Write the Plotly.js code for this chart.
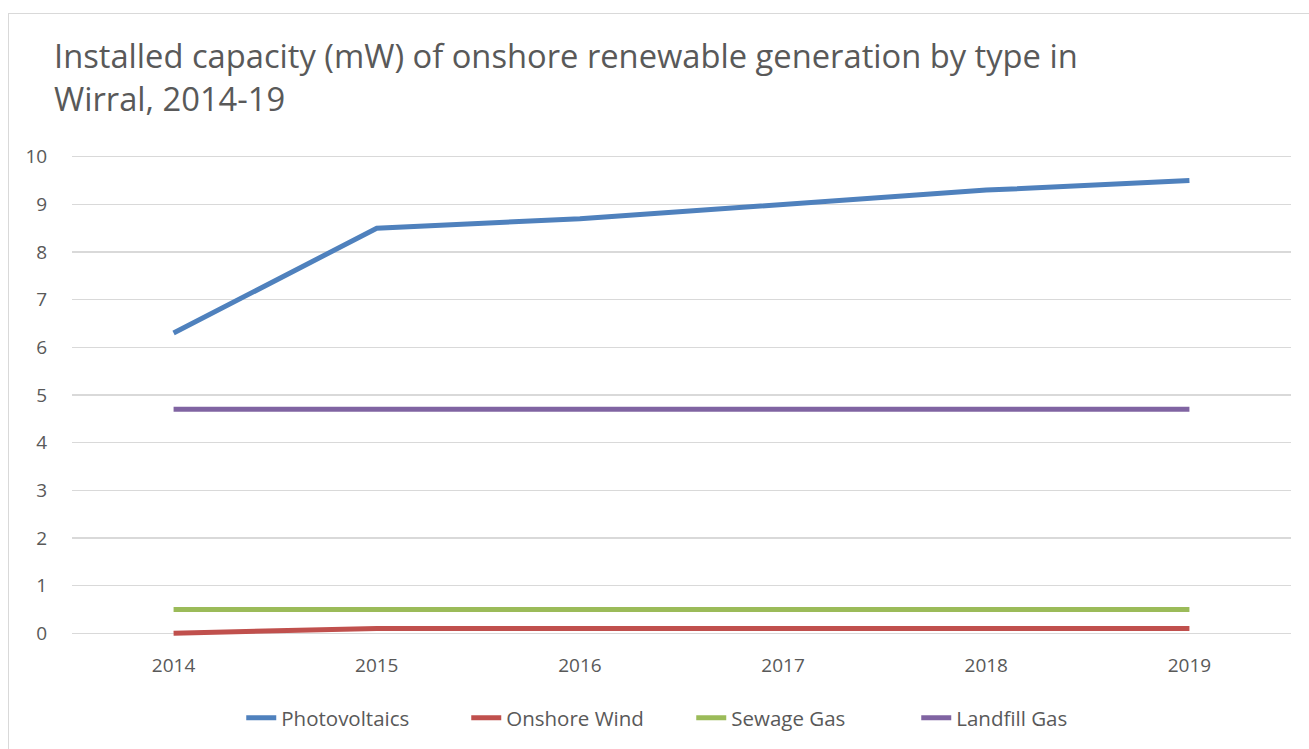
<!DOCTYPE html>
<html>
<head>
<meta charset="utf-8">
<script src="https://cdn.plot.ly/plotly-3.0.1.min.js"></script>
<style>
  html, body { margin: 0; padding: 0; background: #fff; overflow: hidden; }
  #frame { position: absolute; left: 8px; top: 13px; width: 1400px; height: 800px; border: 1px solid #d9d9d9; box-sizing: border-box; }
  #chart { position: absolute; left: 0; top: 0; width: 1309px; height: 749px; }
</style>
</head>
<body>
<div id="frame"></div>
<div id="chart"></div>
<script>
const years = ['2014', '2015', '2016', '2017', '2018', '2019'];
const photovoltaics = [6.3, 8.5, 8.7, 9.0, 9.3, 9.5];
const onshoreWind = [0, 0.1, 0.1, 0.1, 0.1, 0.1];
const sewageGas = [0.5, 0.5, 0.5, 0.5, 0.5, 0.5];
const landfillGas = [4.7, 4.7, 4.7, 4.7, 4.7, 4.7];
const yTicks = [0, 1, 2, 3, 4, 5, 6, 7, 8, 9, 10];

const FONT = 'Open Sans, Liberation Sans, sans-serif';
const TXT = '#595959';

function series(name, y, color) {
  return {
    type: 'scatter', mode: 'lines', name: name, x: years, y: y,
    line: { color: color, width: 5 }
  };
}

const data = [
  series('Photovoltaics', photovoltaics, '#4F81BD'),
  series('Onshore Wind', onshoreWind, '#C0504D'),
  series('Sewage Gas', sewageGas, '#9BBB59'),
  series('Landfill Gas', landfillGas, '#8064A2')
];

const layout = {
  width: 1309, height: 749,
  paper_bgcolor: 'rgba(0,0,0,0)', plot_bgcolor: 'rgba(0,0,0,0)',
  margin: { l: 72, r: 18, t: 152, b: 110 },
  font: { family: FONT, color: TXT },
  title: {
    text: 'Installed capacity (mW) of onshore renewable generation by type in<br>Wirral, 2014-19',
    font: { family: FONT, size: 32.7, color: TXT },
    x: 0, xref: 'container', xanchor: 'left', y: 0.909, yref: 'container', yanchor: 'middle',
    pad: { l: 54 }
  },
  xaxis: {
    type: 'category', range: [-0.5, 5.5],
    showgrid: false, zeroline: false, showline: false,
    ticks: 'outside', ticklen: 10, tickcolor: 'rgba(0,0,0,0)',
    tickfont: { family: FONT, size: 19, color: TXT }
  },
  yaxis: {
    range: [-0.1, 10.1], tickvals: yTicks,
    showgrid: true, gridcolor: '#D9D9D9', gridwidth: 1.3,
    zeroline: false, showline: false,
    ticks: 'outside', ticklen: 20, tickcolor: 'rgba(0,0,0,0)',
    tickfont: { family: FONT, size: 19, color: TXT }
  },
  showlegend: true,
  legend: {
    orientation: 'h', x: 0.508, xanchor: 'center', y: -0.162, yanchor: 'middle',
    font: { family: FONT, size: 20.5, color: TXT },
    itemwidth: 30, entrywidth: 180, tracegroupgap: 0,
    bgcolor: 'rgba(0,0,0,0)'
  }
};

Plotly.newPlot('chart', data, layout, { staticPlot: true });
</script>
</body>
</html>
